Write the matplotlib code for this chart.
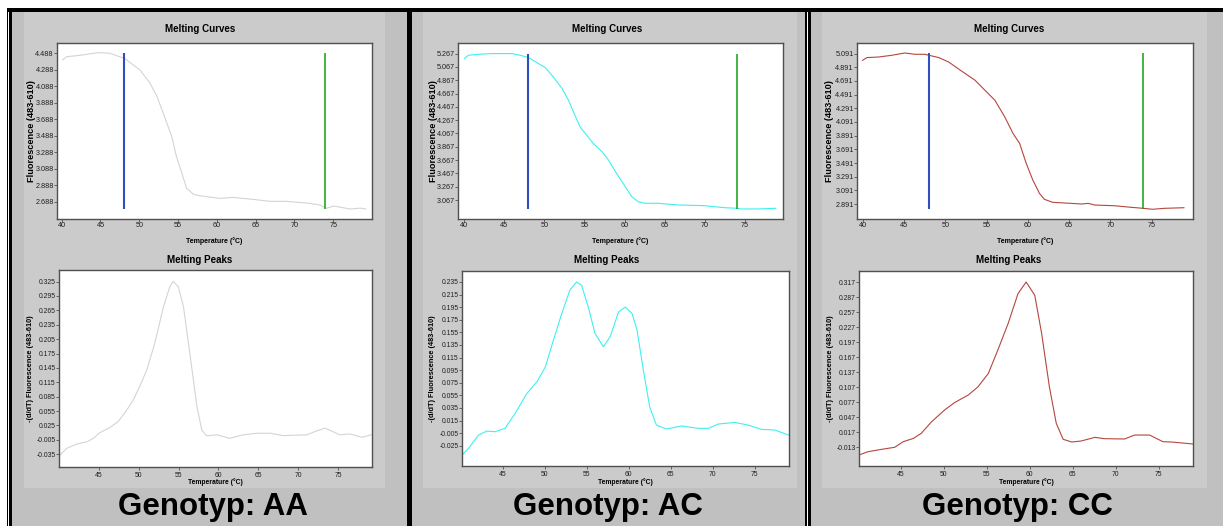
"""
LightCycler melting curves / melting peaks for three genotypes (AA, AC, CC).
"""

import matplotlib
matplotlib.use("Agg")
import matplotlib.pyplot as plt
import matplotlib.transforms as mtransforms
from matplotlib.patches import Rectangle

W, H = 1223, 526

# --- data ---
genotypes = ["AA", "AC", "CC"]
curve_colors = ["#d4d4d4", "#3ef0f0", "#b5463c"]
marker_low, marker_high = 48.0, 74.0

# melting curves: temperature (°C) vs fluorescence (483-610)
aa_curve_t = [40.1, 40.65, 42.4, 44.1, 44.95, 46.2, 48.1, 50.1, 51.4, 52.3, 53.1, 54.2, 54.8, 55.5,
              56.1, 57.0, 57.8, 60.4, 62.1, 64.7, 66.9, 69.0, 72.0, 73.3, 74.1, 75.1, 77.2, 78.5, 79.2]
aa_curve_f = [4.407, 4.447, 4.464, 4.488, 4.496, 4.488, 4.427, 4.285, 4.124, 3.961, 3.760, 3.476, 3.233,
              3.032, 2.850, 2.777, 2.760, 2.728, 2.740, 2.716, 2.692, 2.692, 2.668, 2.647, 2.607, 2.635,
              2.599, 2.610, 2.599]
ac_curve_t = [40.0, 40.5, 41.8, 43.4, 45.9, 46.96, 48.0, 49.25, 50.1, 51.1, 52.2, 53.0, 53.8, 54.45, 55.1,
              56.1, 57.2, 58.0, 59.0, 60.1, 60.9, 61.7, 62.6, 64.2, 66.7, 70.0, 72.5, 74.0, 74.6, 76.7, 78.9]
ac_curve_f = [5.192, 5.242, 5.257, 5.267, 5.267, 5.242, 5.207, 5.117, 5.057, 4.916, 4.742, 4.567, 4.342,
              4.166, 4.067, 3.917, 3.792, 3.667, 3.468, 3.267, 3.117, 3.042, 3.018, 3.018, 2.993, 2.982,
              2.952, 2.943, 2.933, 2.933, 2.943]
cc_curve_t = [39.98, 40.5, 41.9, 43.5, 45.1, 46.3, 47.5, 49.2, 50.4, 52.0, 53.6, 55.0, 56.0, 57.2, 58.2,
              59.0, 59.8, 60.6, 61.4, 62.0, 63.0, 65.2, 66.5, 67.3, 68.1, 70.5, 72.5, 74.0, 75.1, 76.5, 78.9]
cc_curve_f = [4.993, 5.033, 5.041, 5.066, 5.100, 5.081, 5.081, 5.033, 4.968, 4.833, 4.701, 4.530, 4.409,
              4.165, 3.923, 3.777, 3.485, 3.241, 3.047, 2.960, 2.916, 2.901, 2.891, 2.901, 2.876, 2.866,
              2.843, 2.828, 2.814, 2.828, 2.837]

# melting peaks: temperature (°C) vs -(d/dT) fluorescence
aa_peak_t = [40.1, 40.95, 42.2, 43.5, 44.3, 45.1, 46.4, 47.4, 48.5, 49.3, 50.1, 51.0, 52.0, 53.1, 53.9,
             54.3, 54.95, 55.6, 56.4, 57.3, 57.9, 58.5, 59.8, 61.4, 63.1, 64.8, 66.5, 68.1, 71.1, 72.3,
             73.4, 74.4, 75.2, 76.5, 78.0, 79.2]
aa_peak_d = [-0.0365, -0.0225, -0.0136, -0.0087, -0.0017, 0.010, 0.0213, 0.033, 0.0574, 0.0782, 0.106,
             0.141, 0.196, 0.273, 0.3146, 0.325, 0.3146, 0.273, 0.176, 0.064, 0.0157, 0.0035, 0.0055,
             -0.0017, 0.0055, 0.0088, 0.0088, 0.0039, 0.0055, 0.0136, 0.0194, 0.012, 0.0055, 0.0074,
             0.0005, 0.0055]
ac_peak_t = [40.18, 40.96, 42.15, 43.15, 44.1, 45.3, 46.5, 47.9, 49.1, 50.1, 51.05, 52.05, 53.0, 53.8,
             54.4, 55.2, 56.0, 57.0, 57.8, 58.8, 59.6, 60.4, 61.0, 61.75, 62.5, 63.3, 64.5, 66.3, 68.3,
             69.5, 70.65, 72.6, 74.2, 75.8, 77.4, 79.0]
ac_peak_d = [-0.0397, -0.0291, -0.008, -0.0017, -0.0028, 0.0026, 0.0264, 0.058, 0.0765, 0.1003, 0.1426,
             0.185, 0.2218, 0.235, 0.2298, 0.195, 0.1532, 0.132, 0.1478, 0.1874, 0.195, 0.185, 0.1584,
             0.095, 0.0368, 0.0078, 0.0015, 0.0063, 0.0026, 0.0026, 0.0094, 0.012, 0.0078, 0.0010,
             -0.0001, -0.008]
cc_peak_t = [40.16, 41.2, 42.8, 44.3, 45.3, 46.5, 47.4, 48.6, 50.1, 51.3, 52.85, 54.0, 55.2, 56.3, 57.5,
             58.65, 59.6, 60.6, 61.4, 62.3, 63.1, 63.9, 64.9, 66.0, 67.6, 68.7, 71.05, 72.2, 73.95, 75.5,
             76.5, 79.0]
cc_peak_d = [-0.0282, -0.0217, -0.0169, -0.0129, -0.0017, 0.0050, 0.015, 0.0381, 0.0614, 0.0767, 0.0913,
             0.1078, 0.1345, 0.181, 0.2341, 0.2939, 0.317, 0.2905, 0.2142, 0.1078, 0.0349, 0.0031,
             -0.0023, -0.0003, 0.007, 0.0043, 0.0037, 0.0116, 0.0116, -0.0017, -0.0023, -0.0063]

# tick labels as printed by the instrument software
curve_xticks = [40, 45, 50, 55, 60, 65, 70, 75]
peak_xticks = [45, 50, 55, 60, 65, 70, 75]
aa_curve_yticks = ["4.488", "4.288", "4.088", "3.888", "3.688", "3.488", "3.288", "3.088", "2.888", "2.688"]
ac_curve_yticks = ["5.267", "5.067", "4.867", "4.667", "4.467", "4.267", "4.067", "3.867", "3.667",
                   "3.467", "3.267", "3.067"]
cc_curve_yticks = ["5.091", "4.891", "4.691", "4.491", "4.291", "4.091", "3.891", "3.691", "3.491",
                   "3.291", "3.091", "2.891"]
aa_peak_yticks = ["0.325", "0.295", "0.265", "0.235", "0.205", "0.175", "0.145", "0.115", "0.085",
                  "0.055", "0.025", "-0.005", "-0.035"]
ac_peak_yticks = ["0.235", "0.215", "0.195", "0.175", "0.155", "0.135", "0.115", "0.095", "0.075",
                  "0.055", "0.035", "0.015", "-0.005", "-0.025"]
cc_peak_yticks = ["0.317", "0.287", "0.257", "0.227", "0.197", "0.167", "0.137", "0.107", "0.077",
                  "0.047", "0.017", "-0.013"]

# --- layout in screenshot pixels (left, top, right, bottom) ---
layout = [
    dict(outer=(12, 407), inner=(24, 385), top=(57, 43, 372, 219), bot=(59, 270, 372, 467),
         title_x=200, top_ylab_x=32, bot_ylab_x=31, geno_x=213,
         top_xlim=(39.4, 80.0), top_ylim=(2.478, 4.613), bot_xlim=(39.98, 79.27), bot_ylim=(-0.0615, 0.349)),
    dict(outer=(412, 805), inner=(423, 797), top=(458, 43, 783, 219), bot=(462, 271, 789, 466),
         title_x=607, top_ylab_x=433, bot_ylab_x=433, geno_x=608,
         top_xlim=(39.2, 79.8), top_ylim=(2.782, 5.426), bot_xlim=(40.18, 79.07), bot_ylim=(-0.0572, 0.2524)),
    dict(outer=(811, 1223), inner=(822, 1207), top=(857, 43, 1193, 219), bot=(859, 271, 1193, 466),
         title_x=1009, top_ylab_x=830, bot_ylab_x=830, geno_x=1017,
         top_xlim=(39.3, 80.0), top_ylim=(2.672, 5.246), bot_xlim=(40.16, 79.0), bot_ylim=(-0.0502, 0.339)),
]

curves = [(aa_curve_t, aa_curve_f, aa_curve_yticks),
          (ac_curve_t, ac_curve_f, ac_curve_yticks),
          (cc_curve_t, cc_curve_f, cc_curve_yticks)]
peaks = [(aa_peak_t, aa_peak_d, aa_peak_yticks),
         (ac_peak_t, ac_peak_d, ac_peak_yticks),
         (cc_peak_t, cc_peak_d, cc_peak_yticks)]

FONT = ["Liberation Sans", "DejaVu Sans"]
SPINE = "#505050"

fig = plt.figure(figsize=(W / 100, H / 100), dpi=100, facecolor="white")
# pixel coordinates with the origin at the top-left corner
PX = mtransforms.Affine2D().scale(1 / W, -1 / H).translate(0, 1) + fig.transFigure


def rect(l, t, r, b, color):
    fig.patches.append(Rectangle((l, t), r - l, b - t, transform=PX, facecolor=color,
                                 edgecolor="none", zorder=-5))


def add_axes_px(box):
    l, t, r, b = box
    return fig.add_axes([l / W, 1 - b / H, (r - l) / W, (b - t) / H])


def style_axes(ax, tick_size, xpad, ypad):
    ax.set_facecolor("white")
    for s in ax.spines.values():
        s.set_color(SPINE)
        s.set_linewidth(1.0)
    ax.tick_params(direction="out", length=2, width=0.6, color=SPINE)
    ax.tick_params(axis="x", pad=xpad)
    ax.tick_params(axis="y", pad=ypad)
    for lab in ax.get_xticklabels() + ax.get_yticklabels():
        lab.set_family(FONT)
        lab.set_fontsize(tick_size)
        lab.set_color("#202020")


# --- frame: top bar, black separators, gray panels ---
rect(7, 8, W, 12, "black")
for lay in layout:
    rect(lay["outer"][0], 12, lay["outer"][1], H, "#c0c0c0")
    rect(lay["inner"][0], 12, lay["inner"][1], 488, "#cbcbcb")
rect(7, 8, 8, H, "black")
rect(9, 8, 12, H, "black")
rect(407, 8, 412, H, "black")
rect(805, 8, 807, H, "black")
rect(808, 8, 811, H, "black")

for i, lay in enumerate(layout):
    color = curve_colors[i]

    # --- Melting Curves ---
    t, f, yt = curves[i]
    ax = add_axes_px(lay["top"])
    ax.plot(t, f, color=color, linewidth=0.8)
    ax.vlines(marker_low, min(f), max(f), color="#2f4fc0", linewidth=1.5, zorder=3)
    ax.vlines(marker_high, min(f), max(f), color="#12a012", linewidth=1.1, zorder=3)
    ax.set_xlim(*lay["top_xlim"])
    ax.set_ylim(*lay["top_ylim"])
    ax.set_xticks(curve_xticks)
    ax.set_xticklabels([str(v) for v in curve_xticks])
    ax.set_yticks([float(v) for v in yt])
    ax.set_yticklabels(yt)
    style_axes(ax, 5.2, 0.0, 0.3)
    ax.set_xlabel("Temperature (°C)", family=FONT, fontsize=5.0, fontweight="bold", va="center")
    ax.xaxis.set_label_coords((lay["top"][0] + lay["top"][2]) / 2, 241, transform=PX)
    ax.set_ylabel("Fluorescence (483-610)", family=FONT, fontsize=6.6, fontweight="bold", va="center")
    ax.yaxis.set_label_coords(lay["top_ylab_x"], (lay["top"][1] + lay["top"][3]) / 2, transform=PX)
    fig.text(lay["title_x"], 29, "Melting Curves", transform=PX, ha="center", va="center",
             family=FONT, fontsize=7, fontweight="bold")

    # --- Melting Peaks ---
    t, d, yt = peaks[i]
    ax = add_axes_px(lay["bot"])
    ax.plot(t, d, color=color, linewidth=0.8)
    ax.set_xlim(*lay["bot_xlim"])
    ax.set_ylim(*lay["bot_ylim"])
    ax.set_xticks(peak_xticks)
    ax.set_xticklabels([str(v) for v in peak_xticks])
    ax.set_yticks([float(v) for v in yt])
    ax.set_yticklabels(yt)
    style_axes(ax, 4.9, 1.5, 0.5)
    ax.set_xlabel("Temperature (°C)", family=FONT, fontsize=4.9, fontweight="bold", va="center")
    ax.xaxis.set_label_coords((lay["bot"][0] + lay["bot"][2]) / 2, 482, transform=PX)
    ax.set_ylabel("-(d/dT) Fluorescence (483-610)", family=FONT, fontsize=5.3, fontweight="bold",
                  va="center")
    ax.yaxis.set_label_coords(lay["bot_ylab_x"], (lay["bot"][1] + lay["bot"][3]) / 2, transform=PX)
    fig.text(lay["title_x"], 260, "Melting Peaks", transform=PX, ha="center", va="center",
             family=FONT, fontsize=7, fontweight="bold")

    fig.text(lay["geno_x"], 507, f"Genotyp: {genotypes[i]}", transform=PX, ha="center", va="center",
             family=FONT, fontsize=22.5, fontweight="bold", color="black")

fig.savefig("out.png", dpi=100, facecolor=fig.get_facecolor())
plt.close(fig)
